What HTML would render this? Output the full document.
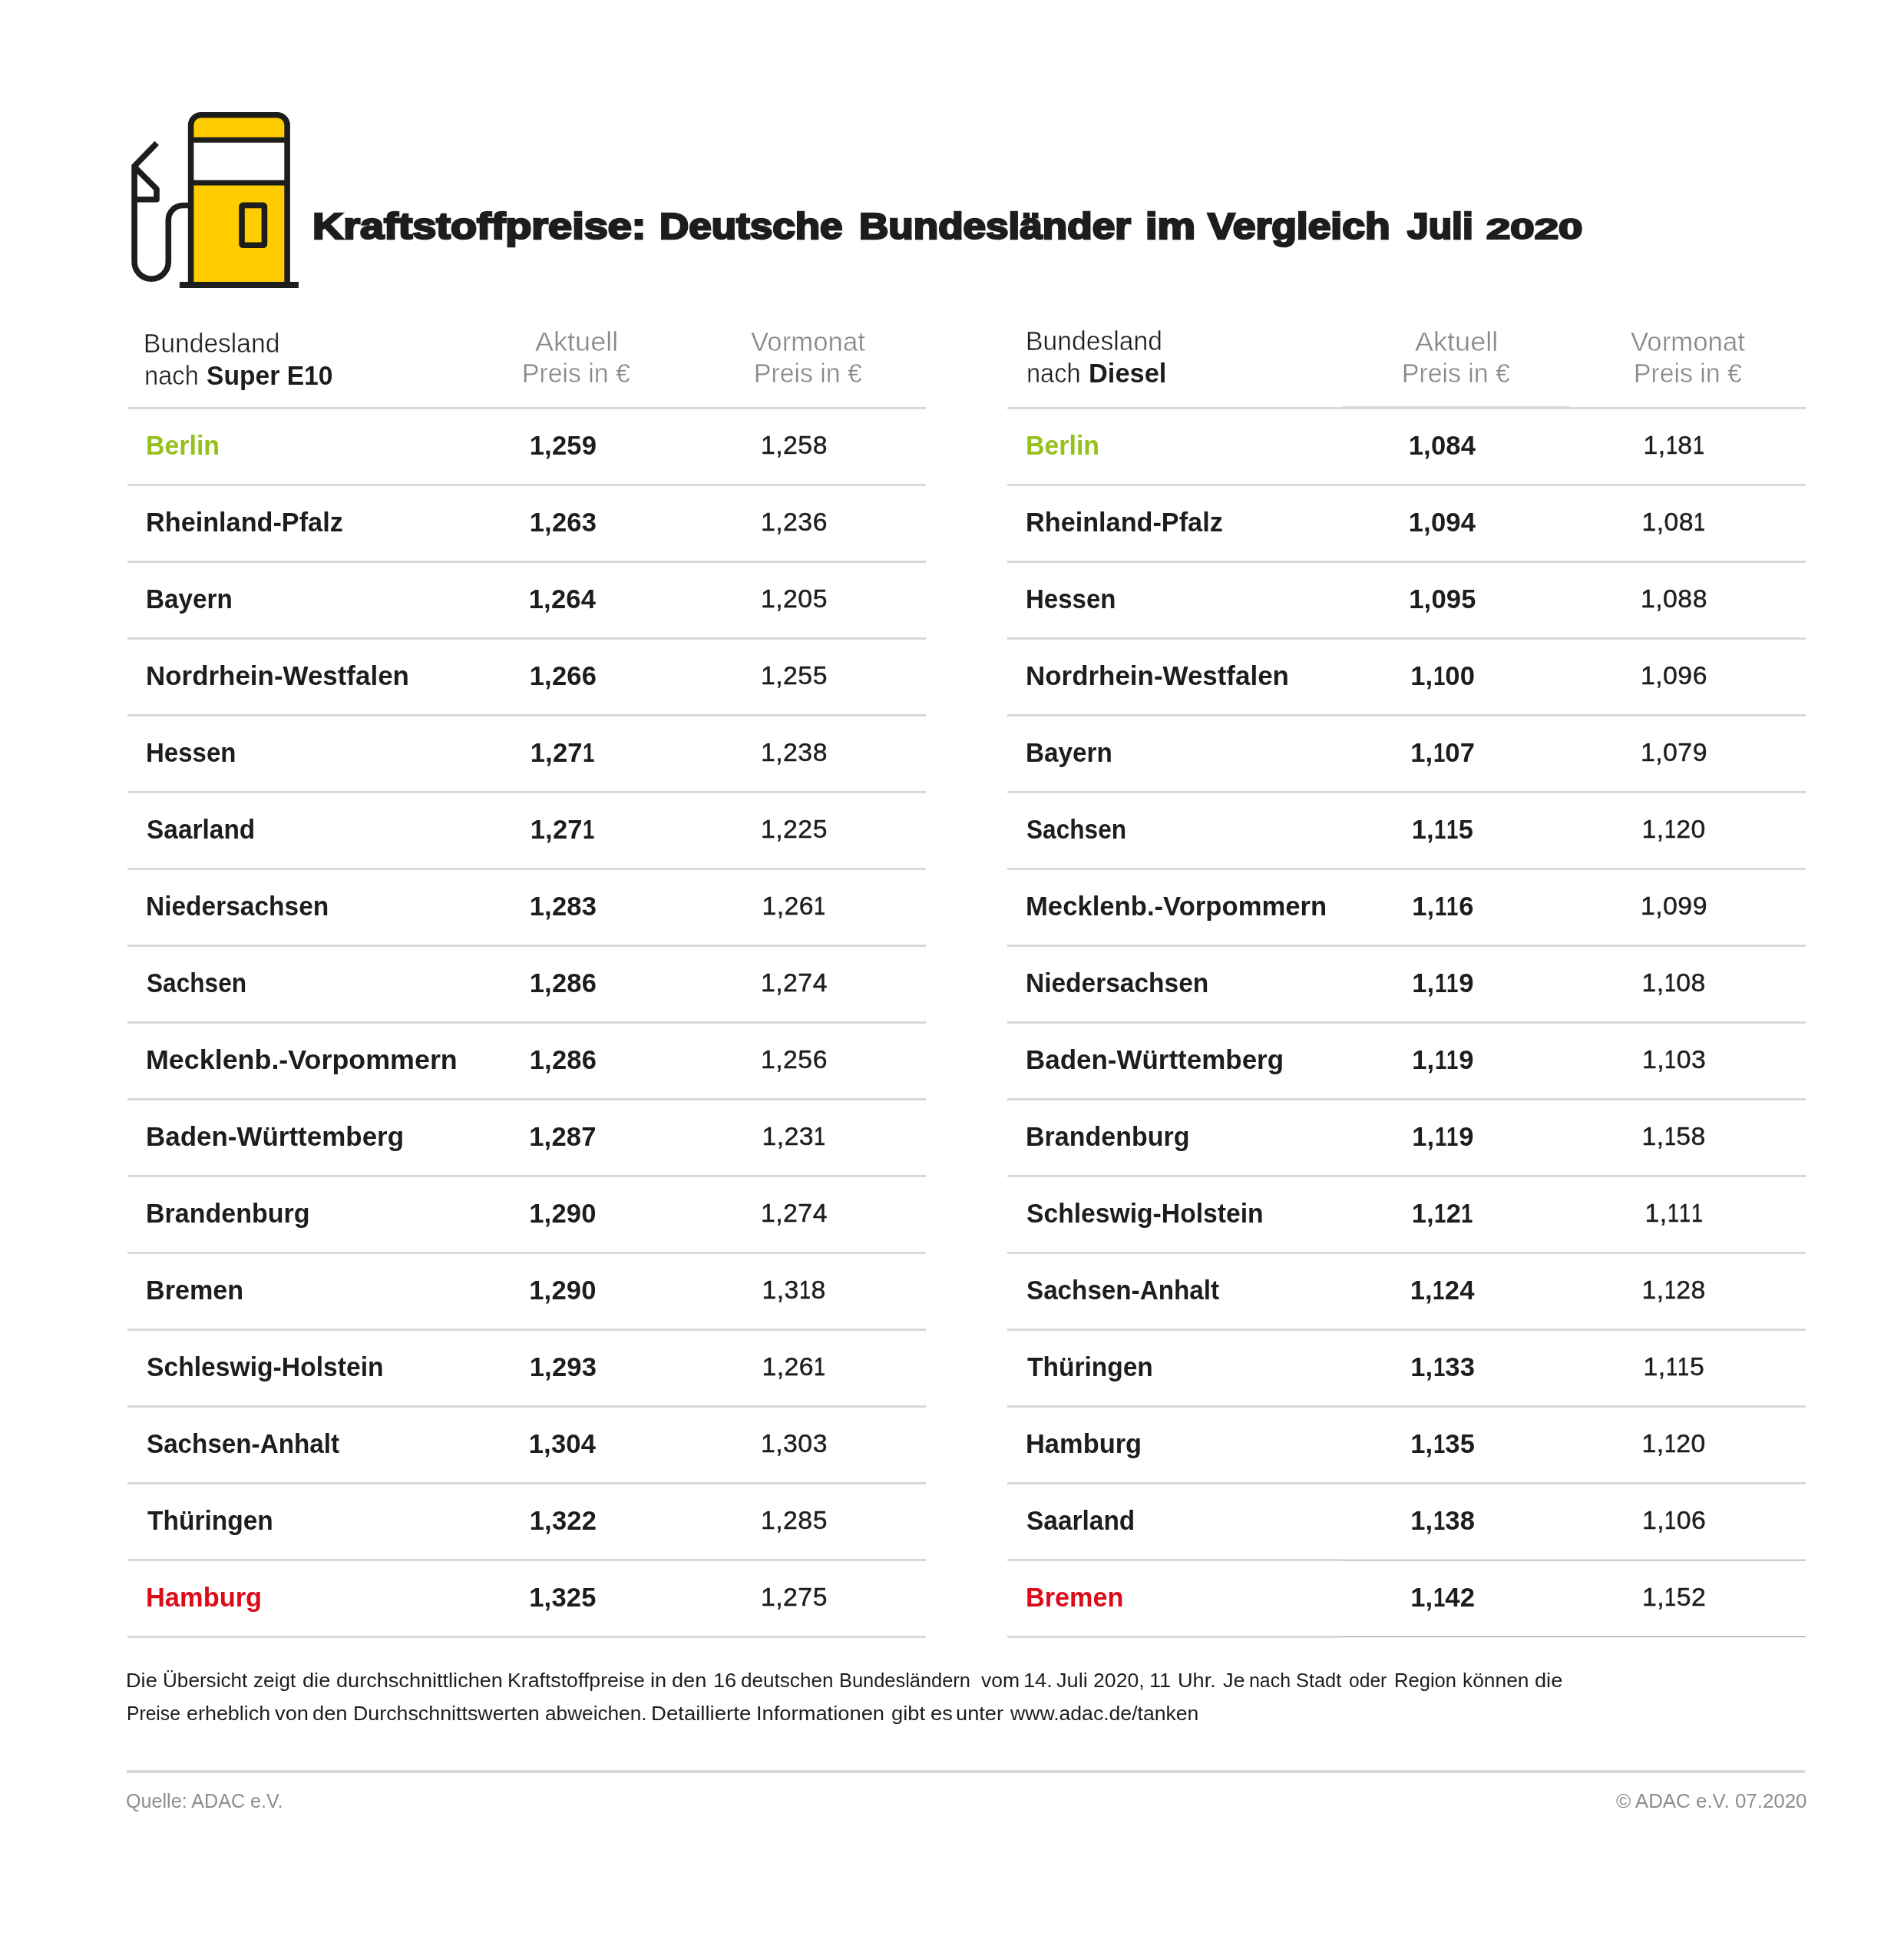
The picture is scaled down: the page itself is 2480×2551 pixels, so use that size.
<!DOCTYPE html>
<html lang="de"><head><meta charset="utf-8"><title>Kraftstoffpreise</title>
<style>
html,body{margin:0;padding:0;background:#fff;}
body{width:2480px;height:2551px;position:relative;overflow:hidden;font-family:"Liberation Sans",sans-serif;}
.t{position:absolute;white-space:nowrap;line-height:1;transform-origin:0 0;}
.b{font-weight:bold;}
.o{display:inline-block;transform:scaleX(.8);margin:0 -1.8px;}
.ln{position:absolute;background:#d9d9d9;height:3px;}
svg{position:absolute;left:0;top:0;}
#w{position:absolute;left:0;top:0;width:2480px;height:2551px;will-change:transform;}
</style></head><body><div id="w">
<div class="ln" style="left:166.3px;top:530.0px;width:1039.7px"></div>
<div class="ln" style="left:166.3px;top:630.0px;width:1039.7px"></div>
<div class="ln" style="left:166.3px;top:730.0px;width:1039.7px"></div>
<div class="ln" style="left:166.3px;top:830.0px;width:1039.7px"></div>
<div class="ln" style="left:166.3px;top:930.0px;width:1039.7px"></div>
<div class="ln" style="left:166.3px;top:1030.0px;width:1039.7px"></div>
<div class="ln" style="left:166.3px;top:1130.0px;width:1039.7px"></div>
<div class="ln" style="left:166.3px;top:1230.0px;width:1039.7px"></div>
<div class="ln" style="left:166.3px;top:1330.0px;width:1039.7px"></div>
<div class="ln" style="left:166.3px;top:1430.0px;width:1039.7px"></div>
<div class="ln" style="left:166.3px;top:1530.0px;width:1039.7px"></div>
<div class="ln" style="left:166.3px;top:1630.0px;width:1039.7px"></div>
<div class="ln" style="left:166.3px;top:1730.0px;width:1039.7px"></div>
<div class="ln" style="left:166.3px;top:1830.0px;width:1039.7px"></div>
<div class="ln" style="left:166.3px;top:1930.0px;width:1039.7px"></div>
<div class="ln" style="left:166.3px;top:2030.0px;width:1039.7px"></div>
<div class="ln" style="left:166.3px;top:2130.0px;width:1039.7px"></div>
<div class="ln" style="left:1312.3px;top:530.0px;width:1039.7px"></div>
<div class="ln" style="left:1312.3px;top:630.0px;width:1039.7px"></div>
<div class="ln" style="left:1312.3px;top:730.0px;width:1039.7px"></div>
<div class="ln" style="left:1312.3px;top:830.0px;width:1039.7px"></div>
<div class="ln" style="left:1312.3px;top:930.0px;width:1039.7px"></div>
<div class="ln" style="left:1312.3px;top:1030.0px;width:1039.7px"></div>
<div class="ln" style="left:1312.3px;top:1130.0px;width:1039.7px"></div>
<div class="ln" style="left:1312.3px;top:1230.0px;width:1039.7px"></div>
<div class="ln" style="left:1312.3px;top:1330.0px;width:1039.7px"></div>
<div class="ln" style="left:1312.3px;top:1430.0px;width:1039.7px"></div>
<div class="ln" style="left:1312.3px;top:1530.0px;width:1039.7px"></div>
<div class="ln" style="left:1312.3px;top:1630.0px;width:1039.7px"></div>
<div class="ln" style="left:1312.3px;top:1730.0px;width:1039.7px"></div>
<div class="ln" style="left:1312.3px;top:1830.0px;width:1039.7px"></div>
<div class="ln" style="left:1312.3px;top:1930.0px;width:1039.7px"></div>
<div class="ln" style="left:1312.3px;top:2030.0px;width:436.0px"></div>
<div class="ln" style="left:1748.3px;top:2030.7px;width:603.7px;height:1.4px;background:#8a8a8a"></div>
<div class="ln" style="left:1312.3px;top:2130.0px;width:436.0px"></div>
<div class="ln" style="left:1748.3px;top:2130.7px;width:603.7px;height:1.4px;background:#8a8a8a"></div>
<div class="ln" style="left:164.8px;top:2304.5px;width:2186.7px;height:4px"></div>
<div class="ln" style="left:1747.5px;top:529.3px;width:297px;height:4.2px"></div>
<svg width="2480" height="420" viewBox="0 0 2480 420" fill="none" stroke="#1d1d1b" stroke-width="7.6">
<path d="M248.6 370 V163 a13.2 13.2 0 0 1 13.2 -13.2 H360.9 a13.2 13.2 0 0 1 13.2 13.2 V370 Z" fill="#ffcc00" stroke="none"/>
<rect x="248.6" y="182.3" width="125.5" height="55.8" fill="#ffffff" stroke="none"/>
<path d="M248.6 368 V163 a13.2 13.2 0 0 1 13.2 -13.2 H360.9 a13.2 13.2 0 0 1 13.2 13.2 V368"/>
<path d="M246 182.3 H376" stroke-width="7"/>
<path d="M246 238.1 H376" stroke-width="7"/>
<path d="M233.9 370.9 H388.9" stroke-width="8"/>
<rect x="315" y="267.4" width="29.4" height="51.9" rx="1.5" stroke-linejoin="round"/>
<path d="M204.2 186.3 L175.1 216.4 V341.1 a22.1 22.1 0 0 0 44.2 0 V286.5 a19 19 0 0 1 19 -19 H246" stroke-linejoin="miter" stroke-miterlimit="2"/>
<path d="M175.1 217.2 L204 246.1 V259.7 H175.1" stroke-linejoin="round"/>
</svg>

<div id="title0" class="t b" style="left:407.36px;top:271.39px;font-size:47.5px;color:#1d1d1b;-webkit-text-stroke:2.6px #1d1d1b;transform:scaleX(1.1755);">Kraftstoffpreise:</div>
<div id="title1" class="t b" style="left:859.25px;top:271.39px;font-size:47.5px;color:#1d1d1b;-webkit-text-stroke:2.6px #1d1d1b;transform:scaleX(1.1154);">Deutsche</div>
<div id="title2" class="t b" style="left:1119.20px;top:271.39px;font-size:47.5px;color:#1d1d1b;-webkit-text-stroke:2.6px #1d1d1b;transform:scaleX(1.1173);">Bundesländer</div>
<div id="title3" class="t b" style="left:1491.63px;top:271.39px;font-size:47.5px;color:#1d1d1b;-webkit-text-stroke:2.6px #1d1d1b;transform:scaleX(1.1725);">im</div>
<div id="title4" class="t b" style="left:1573.44px;top:271.39px;font-size:47.5px;color:#1d1d1b;-webkit-text-stroke:2.6px #1d1d1b;transform:scaleX(1.1246);">Vergleich</div>
<div id="title5" class="t b" style="left:1833.06px;top:271.39px;font-size:47.5px;color:#1d1d1b;-webkit-text-stroke:2.6px #1d1d1b;transform:scaleX(1.0482);">Juli</div>
<div id="titleY" class="t b" style="left:1936.31px;top:279.86px;font-size:37.5px;color:#1d1d1b;-webkit-text-stroke:2.2px #1d1d1b;transform:scaleX(1.5033);">2020</div>
<div id="h1a" class="t" style="left:187.28px;top:429.50px;font-size:34.5px;color:#1d1d1b;-webkit-text-stroke:0.45px #fff;transform:scaleX(0.9731);">Bundesland</div>
<div id="h1b" class="t" style="left:188.27px;top:471.60px;font-size:34.5px;color:#1d1d1b;-webkit-text-stroke:0.45px #fff;transform:scaleX(0.9465);">nach</div>
<div id="h1c" class="t b" style="left:269.42px;top:471.60px;font-size:34.5px;color:#1d1d1b;transform:scaleX(0.9746);">Super E10</div>
<div id="h2a" class="t" style="left:1335.59px;top:427.00px;font-size:34.5px;color:#1d1d1b;-webkit-text-stroke:0.45px #fff;transform:scaleX(0.9763);">Bundesland</div>
<div id="h2b" class="t" style="left:1336.61px;top:469.00px;font-size:34.5px;color:#1d1d1b;-webkit-text-stroke:0.45px #fff;transform:scaleX(0.9443);">nach</div>
<div id="h2c" class="t b" style="left:1417.62px;top:469.00px;font-size:34.5px;color:#1d1d1b;transform:scaleX(0.9968);">Diesel</div>
<div id="ha1l" class="t" style="left:697.41px;top:427.65px;font-size:34.2px;color:#888888;-webkit-text-stroke:0.45px #fff;transform:scaleX(1.0549);">Aktuell</div>
<div id="ha2l" class="t" style="left:680.38px;top:469.25px;font-size:34.2px;color:#888888;-webkit-text-stroke:0.45px #fff;transform:scaleX(0.9883);">Preis in €</div>
<div id="hv1l" class="t" style="left:978.14px;top:427.65px;font-size:34.2px;color:#888888;-webkit-text-stroke:0.45px #fff;transform:scaleX(1.0176);">Vormonat</div>
<div id="hv2l" class="t" style="left:982.17px;top:469.25px;font-size:34.2px;color:#888888;-webkit-text-stroke:0.45px #fff;transform:scaleX(0.9869);">Preis in €</div>
<div id="ha1r" class="t" style="left:1843.41px;top:427.65px;font-size:34.2px;color:#888888;-webkit-text-stroke:0.45px #fff;transform:scaleX(1.0549);">Aktuell</div>
<div id="ha2r" class="t" style="left:1826.38px;top:469.25px;font-size:34.2px;color:#888888;-webkit-text-stroke:0.45px #fff;transform:scaleX(0.9883);">Preis in €</div>
<div id="hv1r" class="t" style="left:2124.14px;top:427.65px;font-size:34.2px;color:#888888;-webkit-text-stroke:0.45px #fff;transform:scaleX(1.0176);">Vormonat</div>
<div id="hv2r" class="t" style="left:2128.17px;top:469.25px;font-size:34.2px;color:#888888;-webkit-text-stroke:0.45px #fff;transform:scaleX(0.9869);">Preis in €</div>
<div id="nl0" class="t b" style="left:190.02px;top:562.95px;font-size:34.2px;color:#95c11f;transform:scaleX(0.9907);">Berlin</div>
<div id="al0" class="t b" style="left:689.70px;top:563.11px;font-size:34.6px;color:#1d1d1b;letter-spacing:0.2px;">1,259</div>
<div id="vl0" class="t" style="left:990.90px;top:563.29px;font-size:33.8px;color:#1d1d1b;letter-spacing:0.5px;-webkit-text-stroke:0.45px #1d1d1b;">1,258</div>
<div id="nl1" class="t b" style="left:190.00px;top:662.95px;font-size:34.2px;color:#1d1d1b;transform:scaleX(1.0013);">Rheinland-Pfalz</div>
<div id="al1" class="t b" style="left:689.70px;top:663.11px;font-size:34.6px;color:#1d1d1b;letter-spacing:0.2px;">1,263</div>
<div id="vl1" class="t" style="left:990.90px;top:663.29px;font-size:33.8px;color:#1d1d1b;letter-spacing:0.5px;-webkit-text-stroke:0.45px #1d1d1b;">1,236</div>
<div id="nl2" class="t b" style="left:190.05px;top:762.95px;font-size:34.2px;color:#1d1d1b;transform:scaleX(0.9741);">Bayern</div>
<div id="al2" class="t b" style="left:688.70px;top:763.11px;font-size:34.6px;color:#1d1d1b;letter-spacing:0.2px;">1,264</div>
<div id="vl2" class="t" style="left:990.90px;top:763.29px;font-size:33.8px;color:#1d1d1b;letter-spacing:0.5px;-webkit-text-stroke:0.45px #1d1d1b;">1,205</div>
<div id="nl3" class="t b" style="left:189.96px;top:862.95px;font-size:34.2px;color:#1d1d1b;transform:scaleX(1.0218);">Nordrhein-Westfalen</div>
<div id="al3" class="t b" style="left:689.70px;top:863.11px;font-size:34.6px;color:#1d1d1b;letter-spacing:0.2px;">1,266</div>
<div id="vl3" class="t" style="left:990.90px;top:863.29px;font-size:33.8px;color:#1d1d1b;letter-spacing:0.5px;-webkit-text-stroke:0.45px #1d1d1b;">1,255</div>
<div id="nl4" class="t b" style="left:190.07px;top:962.95px;font-size:34.2px;color:#1d1d1b;transform:scaleX(0.9661);">Hessen</div>
<div id="al4" class="t b" style="left:690.70px;top:963.11px;font-size:34.6px;color:#1d1d1b;letter-spacing:0.2px;">1,27<span class="o">1</span></div>
<div id="vl4" class="t" style="left:990.90px;top:963.29px;font-size:33.8px;color:#1d1d1b;letter-spacing:0.5px;-webkit-text-stroke:0.45px #1d1d1b;">1,238</div>
<div id="nl5" class="t b" style="left:191.02px;top:1062.95px;font-size:34.2px;color:#1d1d1b;transform:scaleX(0.9779);">Saarland</div>
<div id="al5" class="t b" style="left:690.70px;top:1063.11px;font-size:34.6px;color:#1d1d1b;letter-spacing:0.2px;">1,27<span class="o">1</span></div>
<div id="vl5" class="t" style="left:990.90px;top:1063.29px;font-size:33.8px;color:#1d1d1b;letter-spacing:0.5px;-webkit-text-stroke:0.45px #1d1d1b;">1,225</div>
<div id="nl6" class="t b" style="left:190.04px;top:1162.95px;font-size:34.2px;color:#1d1d1b;transform:scaleX(0.9797);">Niedersachsen</div>
<div id="al6" class="t b" style="left:689.70px;top:1163.11px;font-size:34.6px;color:#1d1d1b;letter-spacing:0.2px;">1,283</div>
<div id="vl6" class="t" style="left:992.40px;top:1163.29px;font-size:33.8px;color:#1d1d1b;letter-spacing:0.5px;-webkit-text-stroke:0.45px #1d1d1b;">1,26<span class="o">1</span></div>
<div id="nl7" class="t b" style="left:191.06px;top:1262.95px;font-size:34.2px;color:#1d1d1b;transform:scaleX(0.9248);">Sachsen</div>
<div id="al7" class="t b" style="left:689.70px;top:1263.11px;font-size:34.6px;color:#1d1d1b;letter-spacing:0.2px;">1,286</div>
<div id="vl7" class="t" style="left:990.90px;top:1263.29px;font-size:33.8px;color:#1d1d1b;letter-spacing:0.5px;-webkit-text-stroke:0.45px #1d1d1b;">1,274</div>
<div id="nl8" class="t b" style="left:189.90px;top:1362.95px;font-size:34.2px;color:#1d1d1b;transform:scaleX(1.0488);">Mecklenb.-Vorpommern</div>
<div id="al8" class="t b" style="left:689.70px;top:1363.11px;font-size:34.6px;color:#1d1d1b;letter-spacing:0.2px;">1,286</div>
<div id="vl8" class="t" style="left:990.90px;top:1363.29px;font-size:33.8px;color:#1d1d1b;letter-spacing:0.5px;-webkit-text-stroke:0.45px #1d1d1b;">1,256</div>
<div id="nl9" class="t b" style="left:189.95px;top:1462.95px;font-size:34.2px;color:#1d1d1b;transform:scaleX(1.0228);">Baden-Württemberg</div>
<div id="al9" class="t b" style="left:689.20px;top:1463.11px;font-size:34.6px;color:#1d1d1b;letter-spacing:0.2px;">1,287</div>
<div id="vl9" class="t" style="left:992.40px;top:1463.29px;font-size:33.8px;color:#1d1d1b;letter-spacing:0.5px;-webkit-text-stroke:0.45px #1d1d1b;">1,23<span class="o">1</span></div>
<div id="nl10" class="t b" style="left:190.01px;top:1562.95px;font-size:34.2px;color:#1d1d1b;transform:scaleX(0.9944);">Brandenburg</div>
<div id="al10" class="t b" style="left:689.20px;top:1563.11px;font-size:34.6px;color:#1d1d1b;letter-spacing:0.2px;">1,290</div>
<div id="vl10" class="t" style="left:990.90px;top:1563.29px;font-size:33.8px;color:#1d1d1b;letter-spacing:0.5px;-webkit-text-stroke:0.45px #1d1d1b;">1,274</div>
<div id="nl11" class="t b" style="left:190.00px;top:1662.95px;font-size:34.2px;color:#1d1d1b;transform:scaleX(0.9994);">Bremen</div>
<div id="al11" class="t b" style="left:689.20px;top:1663.11px;font-size:34.6px;color:#1d1d1b;letter-spacing:0.2px;">1,290</div>
<div id="vl11" class="t" style="left:992.40px;top:1663.29px;font-size:33.8px;color:#1d1d1b;letter-spacing:0.5px;-webkit-text-stroke:0.45px #1d1d1b;">1,3<span class="o">1</span>8</div>
<div id="nl12" class="t b" style="left:191.02px;top:1762.95px;font-size:34.2px;color:#1d1d1b;transform:scaleX(0.9846);">Schleswig-Holstein</div>
<div id="al12" class="t b" style="left:689.70px;top:1763.11px;font-size:34.6px;color:#1d1d1b;letter-spacing:0.2px;">1,293</div>
<div id="vl12" class="t" style="left:992.40px;top:1763.29px;font-size:33.8px;color:#1d1d1b;letter-spacing:0.5px;-webkit-text-stroke:0.45px #1d1d1b;">1,26<span class="o">1</span></div>
<div id="nl13" class="t b" style="left:191.03px;top:1862.95px;font-size:34.2px;color:#1d1d1b;transform:scaleX(0.9715);">Sachsen-Anhalt</div>
<div id="al13" class="t b" style="left:688.70px;top:1863.11px;font-size:34.6px;color:#1d1d1b;letter-spacing:0.2px;">1,304</div>
<div id="vl13" class="t" style="left:990.90px;top:1863.29px;font-size:33.8px;color:#1d1d1b;letter-spacing:0.5px;-webkit-text-stroke:0.45px #1d1d1b;">1,303</div>
<div id="nl14" class="t b" style="left:192.00px;top:1962.95px;font-size:34.2px;color:#1d1d1b;transform:scaleX(0.9801);">Thüringen</div>
<div id="al14" class="t b" style="left:689.70px;top:1963.11px;font-size:34.6px;color:#1d1d1b;letter-spacing:0.2px;">1,322</div>
<div id="vl14" class="t" style="left:990.90px;top:1963.29px;font-size:33.8px;color:#1d1d1b;letter-spacing:0.5px;-webkit-text-stroke:0.45px #1d1d1b;">1,285</div>
<div id="nl15" class="t b" style="left:189.99px;top:2062.95px;font-size:34.2px;color:#dc0b1a;transform:scaleX(1.0073);">Hamburg</div>
<div id="al15" class="t b" style="left:689.20px;top:2063.11px;font-size:34.6px;color:#1d1d1b;letter-spacing:0.2px;">1,325</div>
<div id="vl15" class="t" style="left:990.90px;top:2063.29px;font-size:33.8px;color:#1d1d1b;letter-spacing:0.5px;-webkit-text-stroke:0.45px #1d1d1b;">1,275</div>
<div id="nr0" class="t b" style="left:1336.02px;top:562.95px;font-size:34.2px;color:#95c11f;transform:scaleX(0.9907);">Berlin</div>
<div id="ar0" class="t b" style="left:1834.70px;top:563.11px;font-size:34.6px;color:#1d1d1b;letter-spacing:0.2px;">1,084</div>
<div id="vr0" class="t" style="left:2140.40px;top:563.29px;font-size:33.8px;color:#1d1d1b;letter-spacing:0.5px;-webkit-text-stroke:0.45px #1d1d1b;">1,<span class="o">1</span>8<span class="o">1</span></div>
<div id="nr1" class="t b" style="left:1336.00px;top:662.95px;font-size:34.2px;color:#1d1d1b;transform:scaleX(1.0013);">Rheinland-Pfalz</div>
<div id="ar1" class="t b" style="left:1834.70px;top:663.11px;font-size:34.6px;color:#1d1d1b;letter-spacing:0.2px;">1,094</div>
<div id="vr1" class="t" style="left:2138.40px;top:663.29px;font-size:33.8px;color:#1d1d1b;letter-spacing:0.5px;-webkit-text-stroke:0.45px #1d1d1b;">1,08<span class="o">1</span></div>
<div id="nr2" class="t b" style="left:1336.07px;top:762.95px;font-size:34.2px;color:#1d1d1b;transform:scaleX(0.9661);">Hessen</div>
<div id="ar2" class="t b" style="left:1835.20px;top:763.11px;font-size:34.6px;color:#1d1d1b;letter-spacing:0.2px;">1,095</div>
<div id="vr2" class="t" style="left:2136.90px;top:763.29px;font-size:33.8px;color:#1d1d1b;letter-spacing:0.5px;-webkit-text-stroke:0.45px #1d1d1b;">1,088</div>
<div id="nr3" class="t b" style="left:1335.96px;top:862.95px;font-size:34.2px;color:#1d1d1b;transform:scaleX(1.0218);">Nordrhein-Westfalen</div>
<div id="ar3" class="t b" style="left:1837.20px;top:863.11px;font-size:34.6px;color:#1d1d1b;letter-spacing:0.2px;">1,<span class="o">1</span>00</div>
<div id="vr3" class="t" style="left:2136.90px;top:863.29px;font-size:33.8px;color:#1d1d1b;letter-spacing:0.5px;-webkit-text-stroke:0.45px #1d1d1b;">1,096</div>
<div id="nr4" class="t b" style="left:1336.05px;top:962.95px;font-size:34.2px;color:#1d1d1b;transform:scaleX(0.9741);">Bayern</div>
<div id="ar4" class="t b" style="left:1837.20px;top:963.11px;font-size:34.6px;color:#1d1d1b;letter-spacing:0.2px;">1,<span class="o">1</span>07</div>
<div id="vr4" class="t" style="left:2136.90px;top:963.29px;font-size:33.8px;color:#1d1d1b;letter-spacing:0.5px;-webkit-text-stroke:0.45px #1d1d1b;">1,079</div>
<div id="nr5" class="t b" style="left:1337.06px;top:1062.95px;font-size:34.2px;color:#1d1d1b;transform:scaleX(0.9248);">Sachsen</div>
<div id="ar5" class="t b" style="left:1838.70px;top:1063.11px;font-size:34.6px;color:#1d1d1b;letter-spacing:0.2px;">1,<span class="o">1</span><span class="o">1</span>5</div>
<div id="vr5" class="t" style="left:2138.40px;top:1063.29px;font-size:33.8px;color:#1d1d1b;letter-spacing:0.5px;-webkit-text-stroke:0.45px #1d1d1b;">1,<span class="o">1</span>20</div>
<div id="nr6" class="t b" style="left:1335.97px;top:1162.95px;font-size:34.2px;color:#1d1d1b;transform:scaleX(1.0138);">Mecklenb.-Vorpommern</div>
<div id="ar6" class="t b" style="left:1839.20px;top:1163.11px;font-size:34.6px;color:#1d1d1b;letter-spacing:0.2px;">1,<span class="o">1</span><span class="o">1</span>6</div>
<div id="vr6" class="t" style="left:2136.90px;top:1163.29px;font-size:33.8px;color:#1d1d1b;letter-spacing:0.5px;-webkit-text-stroke:0.45px #1d1d1b;">1,099</div>
<div id="nr7" class="t b" style="left:1336.04px;top:1262.95px;font-size:34.2px;color:#1d1d1b;transform:scaleX(0.9797);">Niedersachsen</div>
<div id="ar7" class="t b" style="left:1839.20px;top:1263.11px;font-size:34.6px;color:#1d1d1b;letter-spacing:0.2px;">1,<span class="o">1</span><span class="o">1</span>9</div>
<div id="vr7" class="t" style="left:2138.40px;top:1263.29px;font-size:33.8px;color:#1d1d1b;letter-spacing:0.5px;-webkit-text-stroke:0.45px #1d1d1b;">1,<span class="o">1</span>08</div>
<div id="nr8" class="t b" style="left:1335.95px;top:1362.95px;font-size:34.2px;color:#1d1d1b;transform:scaleX(1.0228);">Baden-Württemberg</div>
<div id="ar8" class="t b" style="left:1839.20px;top:1363.11px;font-size:34.6px;color:#1d1d1b;letter-spacing:0.2px;">1,<span class="o">1</span><span class="o">1</span>9</div>
<div id="vr8" class="t" style="left:2138.90px;top:1363.29px;font-size:33.8px;color:#1d1d1b;letter-spacing:0.5px;-webkit-text-stroke:0.45px #1d1d1b;">1,<span class="o">1</span>03</div>
<div id="nr9" class="t b" style="left:1336.01px;top:1462.95px;font-size:34.2px;color:#1d1d1b;transform:scaleX(0.9944);">Brandenburg</div>
<div id="ar9" class="t b" style="left:1839.20px;top:1463.11px;font-size:34.6px;color:#1d1d1b;letter-spacing:0.2px;">1,<span class="o">1</span><span class="o">1</span>9</div>
<div id="vr9" class="t" style="left:2138.40px;top:1463.29px;font-size:33.8px;color:#1d1d1b;letter-spacing:0.5px;-webkit-text-stroke:0.45px #1d1d1b;">1,<span class="o">1</span>58</div>
<div id="nr10" class="t b" style="left:1337.02px;top:1562.95px;font-size:34.2px;color:#1d1d1b;transform:scaleX(0.9846);">Schleswig-Holstein</div>
<div id="ar10" class="t b" style="left:1838.70px;top:1563.11px;font-size:34.6px;color:#1d1d1b;letter-spacing:0.2px;">1,<span class="o">1</span>2<span class="o">1</span></div>
<div id="vr10" class="t" style="left:2142.40px;top:1563.29px;font-size:33.8px;color:#1d1d1b;letter-spacing:0.5px;-webkit-text-stroke:0.45px #1d1d1b;">1,<span class="o">1</span><span class="o">1</span><span class="o">1</span></div>
<div id="nr11" class="t b" style="left:1337.03px;top:1662.95px;font-size:34.2px;color:#1d1d1b;transform:scaleX(0.9715);">Sachsen-Anhalt</div>
<div id="ar11" class="t b" style="left:1836.70px;top:1663.11px;font-size:34.6px;color:#1d1d1b;letter-spacing:0.2px;">1,<span class="o">1</span>24</div>
<div id="vr11" class="t" style="left:2138.40px;top:1663.29px;font-size:33.8px;color:#1d1d1b;letter-spacing:0.5px;-webkit-text-stroke:0.45px #1d1d1b;">1,<span class="o">1</span>28</div>
<div id="nr12" class="t b" style="left:1338.00px;top:1762.95px;font-size:34.2px;color:#1d1d1b;transform:scaleX(0.9801);">Thüringen</div>
<div id="ar12" class="t b" style="left:1837.20px;top:1763.11px;font-size:34.6px;color:#1d1d1b;letter-spacing:0.2px;">1,<span class="o">1</span>33</div>
<div id="vr12" class="t" style="left:2140.40px;top:1763.29px;font-size:33.8px;color:#1d1d1b;letter-spacing:0.5px;-webkit-text-stroke:0.45px #1d1d1b;">1,<span class="o">1</span><span class="o">1</span>5</div>
<div id="nr13" class="t b" style="left:1335.99px;top:1862.95px;font-size:34.2px;color:#1d1d1b;transform:scaleX(1.0073);">Hamburg</div>
<div id="ar13" class="t b" style="left:1837.20px;top:1863.11px;font-size:34.6px;color:#1d1d1b;letter-spacing:0.2px;">1,<span class="o">1</span>35</div>
<div id="vr13" class="t" style="left:2138.40px;top:1863.29px;font-size:33.8px;color:#1d1d1b;letter-spacing:0.5px;-webkit-text-stroke:0.45px #1d1d1b;">1,<span class="o">1</span>20</div>
<div id="nr14" class="t b" style="left:1337.02px;top:1962.95px;font-size:34.2px;color:#1d1d1b;transform:scaleX(0.9779);">Saarland</div>
<div id="ar14" class="t b" style="left:1837.20px;top:1963.11px;font-size:34.6px;color:#1d1d1b;letter-spacing:0.2px;">1,<span class="o">1</span>38</div>
<div id="vr14" class="t" style="left:2138.90px;top:1963.29px;font-size:33.8px;color:#1d1d1b;letter-spacing:0.5px;-webkit-text-stroke:0.45px #1d1d1b;">1,<span class="o">1</span>06</div>
<div id="nr15" class="t b" style="left:1336.00px;top:2062.95px;font-size:34.2px;color:#dc0b1a;transform:scaleX(0.9997);">Bremen</div>
<div id="ar15" class="t b" style="left:1837.20px;top:2063.11px;font-size:34.6px;color:#1d1d1b;letter-spacing:0.2px;">1,<span class="o">1</span>42</div>
<div id="vr15" class="t" style="left:2138.90px;top:2063.29px;font-size:33.8px;color:#1d1d1b;letter-spacing:0.5px;-webkit-text-stroke:0.45px #1d1d1b;">1,<span class="o">1</span>52</div>
<div id="f1_0" class="t" style="left:164.40px;top:2176.10px;font-size:25.4px;color:#1d1d1b;transform:scaleX(1.0700);">Die</div>
<div id="f1_1" class="t" style="left:211.76px;top:2176.10px;font-size:25.4px;color:#1d1d1b;transform:scaleX(1.0284);">Übersicht</div>
<div id="f1_2" class="t" style="left:330.38px;top:2176.10px;font-size:25.4px;color:#1d1d1b;transform:scaleX(1.0285);">zeigt</div>
<div id="f1_3" class="t" style="left:393.80px;top:2176.10px;font-size:25.4px;color:#1d1d1b;transform:scaleX(1.0700);">die</div>
<div id="f1_4" class="t" style="left:437.75px;top:2176.10px;font-size:25.4px;color:#1d1d1b;transform:scaleX(1.0672);">durchschnittlichen</div>
<div id="f1_5" class="t" style="left:661.29px;top:2176.10px;font-size:25.4px;color:#1d1d1b;transform:scaleX(1.0509);">Kraftstoffpreise</div>
<div id="f1_6" class="t" style="left:847.20px;top:2176.10px;font-size:25.4px;color:#1d1d1b;transform:scaleX(1.0700);">in</div>
<div id="f1_7" class="t" style="left:874.80px;top:2176.10px;font-size:25.4px;color:#1d1d1b;transform:scaleX(1.0700);">den</div>
<div id="f1_8" class="t" style="left:928.60px;top:2176.10px;font-size:25.4px;color:#1d1d1b;transform:scaleX(1.0700);">16</div>
<div id="f1_9" class="t" style="left:965.18px;top:2176.10px;font-size:25.4px;color:#1d1d1b;transform:scaleX(1.0279);">deutschen</div>
<div id="f1_10" class="t" style="left:1093.19px;top:2176.10px;font-size:25.4px;color:#1d1d1b;transform:scaleX(1.0007);">Bundesländern</div>
<div id="f1_11" class="t" style="left:1277.58px;top:2176.10px;font-size:25.4px;color:#1d1d1b;transform:scaleX(1.0437);">vom</div>
<div id="f1_12" class="t" style="left:1333.40px;top:2176.10px;font-size:25.4px;color:#1d1d1b;transform:scaleX(1.0700);">14.</div>
<div id="f1_13" class="t" style="left:1375.85px;top:2176.10px;font-size:25.4px;color:#1d1d1b;transform:scaleX(1.0700);">Juli</div>
<div id="f1_14" class="t" style="left:1423.56px;top:2176.10px;font-size:25.4px;color:#1d1d1b;transform:scaleX(1.0492);">2020,</div>
<div id="f1_15" class="t" style="left:1497.00px;top:2176.10px;font-size:25.4px;color:#1d1d1b;transform:scaleX(1.0700);">11</div>
<div id="f1_16" class="t" style="left:1534.25px;top:2176.10px;font-size:25.4px;color:#1d1d1b;transform:scaleX(1.0700);">Uhr.</div>
<div id="f1_17" class="t" style="left:1593.00px;top:2176.10px;font-size:25.4px;color:#1d1d1b;transform:scaleX(1.0700);">Je</div>
<div id="f1_18" class="t" style="left:1627.42px;top:2176.10px;font-size:25.4px;color:#1d1d1b;transform:scaleX(0.9810);">nach</div>
<div id="f1_19" class="t" style="left:1688.19px;top:2176.10px;font-size:25.4px;color:#1d1d1b;transform:scaleX(1.0001);">Stadt</div>
<div id="f1_20" class="t" style="left:1756.64px;top:2176.10px;font-size:25.4px;color:#1d1d1b;transform:scaleX(0.9702);">oder</div>
<div id="f1_21" class="t" style="left:1815.59px;top:2176.10px;font-size:25.4px;color:#1d1d1b;transform:scaleX(1.0066);">Region</div>
<div id="f1_22" class="t" style="left:1904.73px;top:2176.10px;font-size:25.4px;color:#1d1d1b;transform:scaleX(1.0376);">können</div>
<div id="f1_23" class="t" style="left:1999.30px;top:2176.10px;font-size:25.4px;color:#1d1d1b;transform:scaleX(1.0700);">die</div>
<div id="f2_0" class="t" style="left:165.45px;top:2219.30px;font-size:25.4px;color:#1d1d1b;transform:scaleX(0.9711);">Preise</div>
<div id="f2_1" class="t" style="left:242.94px;top:2219.30px;font-size:25.4px;color:#1d1d1b;transform:scaleX(1.0595);">erheblich</div>
<div id="f2_2" class="t" style="left:358.30px;top:2219.30px;font-size:25.4px;color:#1d1d1b;transform:scaleX(1.0750);">von</div>
<div id="f2_3" class="t" style="left:407.40px;top:2219.30px;font-size:25.4px;color:#1d1d1b;transform:scaleX(1.0750);">den</div>
<div id="f2_4" class="t" style="left:459.92px;top:2219.30px;font-size:25.4px;color:#1d1d1b;transform:scaleX(1.0551);">Durchschnittswerten</div>
<div id="f2_5" class="t" style="left:709.58px;top:2219.30px;font-size:25.4px;color:#1d1d1b;transform:scaleX(1.0318);">abweichen.</div>
<div id="f2_6" class="t" style="left:848.44px;top:2219.30px;font-size:25.4px;color:#1d1d1b;transform:scaleX(1.0855);">Detaillierte</div>
<div id="f2_7" class="t" style="left:985.07px;top:2219.30px;font-size:25.4px;color:#1d1d1b;transform:scaleX(1.0757);">Informationen</div>
<div id="f2_8" class="t" style="left:1161.25px;top:2219.30px;font-size:25.4px;color:#1d1d1b;transform:scaleX(1.0750);">gibt</div>
<div id="f2_9" class="t" style="left:1212.00px;top:2219.30px;font-size:25.4px;color:#1d1d1b;transform:scaleX(1.0750);">es</div>
<div id="f2_10" class="t" style="left:1244.97px;top:2219.30px;font-size:25.4px;color:#1d1d1b;transform:scaleX(1.0713);">unter</div>
<div id="f2_11" class="t" style="left:1316.00px;top:2219.30px;font-size:25.4px;color:#1d1d1b;transform:scaleX(1.0472);">www.adac.de/tanken</div>
<div id="q" class="t" style="left:164.30px;top:2333.12px;font-size:24.9px;color:#8d8d8d;transform:scaleX(1.0101);">Quelle: ADAC e.V.</div>
<div id="c" class="t" style="left:2105.37px;top:2332.92px;font-size:24.9px;color:#8d8d8d;transform:scaleX(1.0406);">© ADAC e.V. 07.2020</div>
</div></body></html>
